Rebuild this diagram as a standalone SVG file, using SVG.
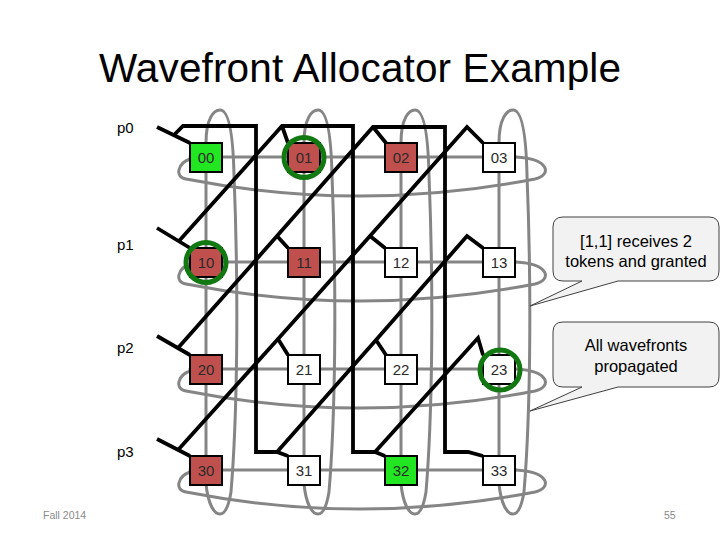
<svg xmlns="http://www.w3.org/2000/svg" width="720" height="540" viewBox="0 0 720 540">
<style>
.bg{fill:#ffffff}
.g{fill:none;stroke:#858585;stroke-width:3;stroke-linejoin:round;stroke-linecap:round}
.k{fill:none;stroke:#000000;stroke-width:3.8;stroke-linejoin:miter;stroke-linecap:butt}
.nd{stroke:#000000;stroke-width:2}
.w{fill:#ffffff}
.r{fill:#c0504d}
.gr{fill:#22e622}
.nt{font-family:"Liberation Sans",Arial,sans-serif;font-size:15px;fill:#2a2a2a;text-anchor:middle}
.ring{fill:none;stroke:#127812;stroke-width:5}
.pl{font-family:"Liberation Sans",Arial,sans-serif;font-size:15px;fill:#000000}
.co{fill:#f2f2f2;stroke:#404040;stroke-width:1}
.ct{font-family:"Liberation Sans",Arial,sans-serif;font-size:16.5px;fill:#000000;text-anchor:middle}
.ft{font-family:"Liberation Sans",Arial,sans-serif;font-size:10.5px;fill:#8a8a8a}
</style>
<rect class="bg" x="0" y="0" width="720" height="540"/>
<text x="360" y="82" font-family="'Liberation Sans',Arial,sans-serif" font-size="40.5" text-anchor="middle" fill="#000" textLength="522">Wavefront Allocator Example</text>
<g id="labels">
<text class="pl" x="117" y="133">p0</text>
<text class="pl" x="117" y="250">p1</text>
<text class="pl" x="117" y="353">p2</text>
<text class="pl" x="117" y="457">p3</text>
</g>
<g id="connectors">
<g id="rings-rows">
<path class="g" d="M190,157 H516"/>
<path class="g" d="M190,159 C178,163 174,177 186,179 Q360,213 535,179 C552,175 550,159 516,157"/>
<path class="g" d="M190,262 H516"/>
<path class="g" d="M190,264 C178,268 174,282 186,284 Q360,318 535,284 C552,280 550,264 516,262"/>
<path class="g" d="M190,369 H516"/>
<path class="g" d="M190,371 C178,375 174,389 186,391 Q360,425 535,391 C552,387 550,371 516,369"/>
<path class="g" d="M190,470 H516"/>
<path class="g" d="M190,472 C178,476 174,490 186,492 Q360,526 535,492 C552,488 550,472 516,470"/>
</g>
<g id="rings-cols">
<path class="g" d="M206,143 V484 M206,143 C206,118 214,110 220,110 C228,110 233,130 234,175 C239,300 237,420 231,492 C228,510 224,514 220,514 C214,514 208,504 206,484"/>
<path class="g" d="M304,143 V484 M304,143 C304,118 312,110 318,110 C326,110 331,130 332,175 C337,300 335,420 329,492 C326,510 322,514 318,514 C312,514 306,504 304,484"/>
<path class="g" d="M401,143 V484 M401,143 C401,118 409,110 415,110 C423,110 428,130 429,175 C434,300 432,420 426,492 C423,510 419,514 415,514 C409,514 403,504 401,484"/>
<path class="g" d="M499,143 V484 M499,143 C499,118 507,110 513,110 C521,110 526,130 527,175 C532,300 530,420 524,492 C521,510 517,514 513,514 C507,514 501,504 499,484"/>
</g>
<g id="wavefronts">
<path class="k" d="M157,127 L190,143"/>
<path class="k" d="M174,135 L183,126 H256 V452 H277 L288,456"/>
<path class="k" d="M277,452 L376,340 L467,236 L483,248 M376,340 L386,355"/>
<path class="k" d="M157,228 L190,248"/>
<path class="k" d="M179,241 L282,126 H353 V452 H375 L385,456 M282,126 L288,143"/>
<path class="k" d="M375,452 L478,338 L483,355"/>
<path class="k" d="M157,336 L190,355"/>
<path class="k" d="M178,348 L277,236 L373,127 H445 V452 H468 L483,456 M277,236 L288,248 M373,127 L386,143"/>
<path class="k" d="M157,439 L190,456"/>
<path class="k" d="M178,450 L278,339 L370,236 L467,127 L483,143 M278,339 L288,355 M370,236 L385,248"/>
</g>
</g>
<g id="n00"><rect class="nd gr" x="190" y="143" width="32" height="29"/><text class="nt" x="206" y="163">00</text></g>
<g id="n01"><rect class="nd r" x="288" y="143" width="32" height="29"/><text class="nt" x="304" y="163">01</text><circle class="ring" cx="304" cy="157.5" r="20"/></g>
<g id="n02"><rect class="nd r" x="385" y="143" width="32" height="29"/><text class="nt" x="401" y="163">02</text></g>
<g id="n03"><rect class="nd w" x="483" y="143" width="32" height="29"/><text class="nt" x="499" y="163">03</text></g>
<g id="n10"><rect class="nd r" x="190" y="248" width="32" height="29"/><text class="nt" x="206" y="268">10</text><circle class="ring" cx="206" cy="262.5" r="20"/></g>
<g id="n11"><rect class="nd r" x="288" y="248" width="32" height="29"/><text class="nt" x="304" y="268">11</text></g>
<g id="n12"><rect class="nd w" x="385" y="248" width="32" height="29"/><text class="nt" x="401" y="268">12</text></g>
<g id="n13"><rect class="nd w" x="483" y="248" width="32" height="29"/><text class="nt" x="499" y="268">13</text></g>
<g id="n20"><rect class="nd r" x="190" y="355" width="32" height="29"/><text class="nt" x="206" y="375">20</text></g>
<g id="n21"><rect class="nd w" x="288" y="355" width="32" height="29"/><text class="nt" x="304" y="375">21</text></g>
<g id="n22"><rect class="nd w" x="385" y="355" width="32" height="29"/><text class="nt" x="401" y="375">22</text></g>
<g id="n23"><rect class="nd w" x="483" y="355" width="32" height="29"/><text class="nt" x="499" y="375">23</text><circle class="ring" cx="500" cy="370" r="20"/></g>
<g id="n30"><rect class="nd r" x="190" y="456" width="32" height="29"/><text class="nt" x="206" y="476">30</text></g>
<g id="n31"><rect class="nd w" x="288" y="456" width="32" height="29"/><text class="nt" x="304" y="476">31</text></g>
<g id="n32"><rect class="nd gr" x="385" y="456" width="32" height="29"/><text class="nt" x="401" y="476">32</text></g>
<g id="n33"><rect class="nd w" x="483" y="456" width="32" height="29"/><text class="nt" x="499" y="476">33</text></g>
<g id="callout1">
<path class="co" d="M563,217 H709 Q719,217 719,227 V271 Q719,281 709,281 H618 L530,306 L582,281 H563 Q553,281 553,271 V227 Q553,217 563,217 Z"/>
<text class="ct" x="636" y="247">[1,1] receives 2</text>
<text class="ct" x="636" y="267">tokens and granted</text>
</g>
<g id="callout2">
<path class="co" d="M563,322 H709 Q719,322 719,332 V377 Q719,387 709,387 H618 L530,411 L582,387 H563 Q553,387 553,377 V332 Q553,322 563,322 Z"/>
<text class="ct" x="636" y="351">All wavefronts</text>
<text class="ct" x="636" y="372">propagated</text>
</g>
<text class="ft" x="43" y="519">Fall 2014</text>
<text class="ft" x="664" y="519">55</text>
</svg>
